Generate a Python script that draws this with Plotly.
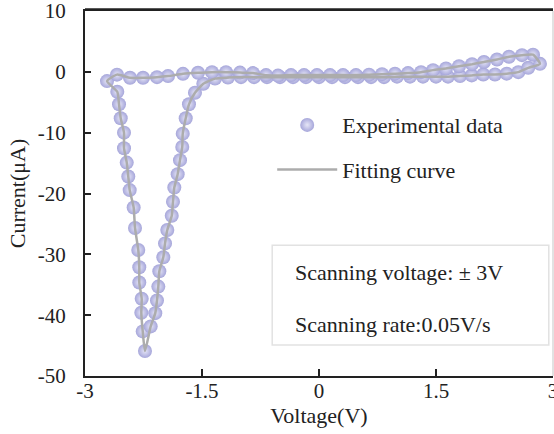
import plotly.graph_objects as go

# ---- data (Voltage in V, Current in uA) ----
# left branch of the reduction peak (going down)
v_left = [-2.718, -2.586, -2.564, -2.542, -2.50, -2.50, -2.465, -2.445, -2.427, -2.376,
          -2.359, -2.317, -2.304, -2.304, -2.273, -2.278, -2.260, -2.231]
i_left = [-1.52, -3.28, -5.34, -7.64, -10.0, -12.56, -14.92, -17.21, -19.44, -22.30,
          -25.67, -29.28, -32.13, -34.64, -37.31, -39.61, -42.67, -45.90]
# right branch of the reduction peak (going up)
v_right = [-2.158, -2.099, -2.077, -2.060, -2.047, -1.996, -1.974, -1.945, -1.888, -1.872,
           -1.855, -1.812, -1.782, -1.753, -1.747, -1.709, -1.667, -1.590, -1.483]
i_right = [-41.85, -39.67, -37.59, -35.30, -32.79, -30.49, -28.20, -26.00, -23.66, -21.36,
           -19.02, -16.82, -14.52, -12.34, -10.16, -7.64, -5.34, -3.44, -1.97]
# lower branch (forward scan to +3 V)
v_lower = [-1.333, -1.167, -1.0, -0.833, -0.667, -0.5, -0.333, -0.167, 0.0, 0.167,
           0.333, 0.5, 0.667, 0.833, 1.0, 1.167, 1.333, 1.5, 1.654, 1.808,
           1.958, 2.106, 2.256, 2.406, 2.555, 2.683, 2.833]
i_lower = [-1.11, -0.95, -0.87, -0.87, -0.87, -0.87, -0.87, -0.87, -0.87, -0.87,
           -0.87, -0.87, -0.87, -0.87, -0.79, -0.79, -0.79, -0.79, -0.79, -0.70,
           -0.59, -0.43, -0.43, -0.30, -0.05, 0.66, 1.31]
# upper branch (reverse scan back to -3 V)
v_upper = [2.744, 2.603, 2.436, 2.282, 2.115, 1.962, 1.795, 1.628, 1.462, 1.308,
           1.141, 0.974, 0.808, 0.641, 0.474, 0.308, 0.141, -0.026, -0.192, -0.359,
           -0.526, -0.679, -0.846, -1.013, -1.192, -1.372, -1.551, -1.744, -1.936, -2.077,
           -2.256, -2.423, -2.590]
i_upper = [2.82, 2.74, 2.49, 2.03, 1.62, 1.26, 0.93, 0.56, 0.28, -0.05,
           -0.21, -0.30, -0.38, -0.46, -0.54, -0.54, -0.54, -0.54, -0.54, -0.54,
           -0.62, -0.54, -0.21, -0.13, -0.05, -0.05, -0.16, -0.33, -0.70, -0.87,
           -0.98, -0.98, -0.46]

x_ticks = [-3, -1.5, 0, 1.5, 3]
x_tick_labels = ["-3", "-1.5", "0", "1.5", "3"]
y_ticks = [10, 0, -10, -20, -30, -40, -50]
y_tick_labels = ["10", "0", "-10", "-20", "-30", "-40", "-50"]

voltage = v_left + v_right + v_lower + v_upper
current = i_left + i_right + i_lower + i_upper
# closed loop for the fitted curve
fit_v = voltage + [voltage[0]]
fit_i = current + [current[0]]

FONT = "Liberation Serif"
MARK = "#a6a6da"
LINE = "#acacac"
TXT = "#222222"

fig = go.Figure()
fig.add_trace(go.Scatter(
    x=voltage, y=current, mode="markers", name="Experimental data",
    legendgroup="a",
    marker=dict(size=14, color=MARK, line=dict(width=0),
                gradient=dict(type="radial", color="#e6e6f7")),
))
fig.add_trace(go.Scatter(
    x=fit_v, y=fit_i, mode="lines", name="Fitting curve",
    legendgroup="b",
    line=dict(color=LINE, width=2.5, shape="spline", smoothing=0.5),
))

fig.update_layout(
    width=554, height=434,
    margin=dict(l=85, r=1, t=11, b=58),
    paper_bgcolor="white", plot_bgcolor="white",
    font=dict(family=FONT, size=21, color=TXT),
    showlegend=True,
    legend=dict(x=0.40, y=0.745, xanchor="left", yanchor="top",
                bgcolor="rgba(0,0,0,0)", font=dict(size=22, family=FONT, color=TXT),
                tracegroupgap=13, itemwidth=60),
    xaxis=dict(range=[-3, 3], tickvals=x_ticks, ticktext=x_tick_labels,
               ticks="inside", ticklen=7, tickwidth=1.5, tickcolor=TXT,
               showline=True, linecolor=TXT, linewidth=2, mirror=True,
               showgrid=False, zeroline=False, automargin=False,
               ticklabelstandoff=-5, ticklabeloverflow="allow",
               title=dict(text="Voltage(V)", font=dict(size=22, family=FONT), standoff=0),
               tickfont=dict(size=21, family=FONT)),
    yaxis=dict(range=[-50, 10], tickvals=y_ticks, ticktext=y_tick_labels,
               ticks="inside", ticklen=6, tickwidth=1.5, tickcolor=TXT,
               showline=True, linecolor=TXT, linewidth=2,
               showgrid=False, zeroline=False, automargin=False,
               ticklabelstandoff=13, ticklabeloverflow="allow",
               title=dict(text="Current(μA)", font=dict(size=22, family=FONT), standoff=6),
               tickfont=dict(size=21, family=FONT)),
    shapes=[
        dict(type="line", xref="paper", yref="paper", x0=0, x1=1, y0=1.004, y1=1.004,
             line=dict(color=TXT, width=2.5), layer="above"),
        dict(type="line", xref="paper", yref="paper", x0=1, x1=1, y0=0, y1=1,
             line=dict(color="#d8d8d8", width=1.5)),
        dict(type="rect", xref="paper", yref="paper", x0=0.400, x1=0.991, y0=0.085, y1=0.358,
             line=dict(color="#e2e2e2", width=1.5), fillcolor="white", layer="below"),
    ],
    annotations=[
        dict(text="Scanning voltage: ± 3V", xref="paper", yref="paper",
             x=0.444, y=0.284, xanchor="left", yanchor="middle", showarrow=False,
             font=dict(size=22, family=FONT, color=TXT)),
        dict(text="Scanning rate:0.05V/s", xref="paper", yref="paper",
             x=0.444, y=0.142, xanchor="left", yanchor="middle", showarrow=False,
             font=dict(size=22, family=FONT, color=TXT)),
    ],
)

fig.write_html("out.html", config={"displayModeBar": False},
               post_script="document.body.style.margin='0';document.body.style.padding='0';")
